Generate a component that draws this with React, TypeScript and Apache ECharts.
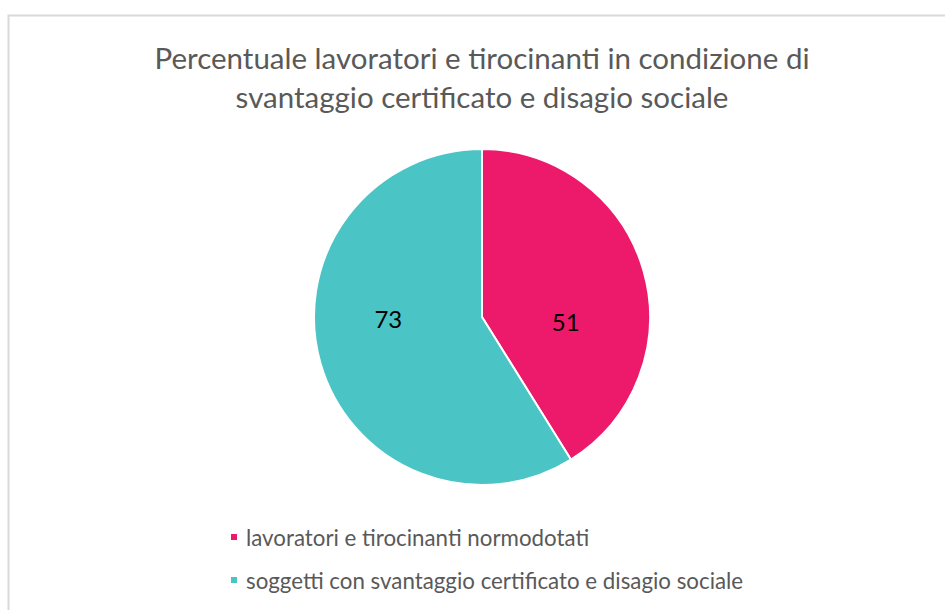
import React, { useEffect, useRef } from "react";
import * as echarts from "echarts";

const titleLines = [
  "Percentuale lavoratori e tirocinanti in condizione di",
  "svantaggio certificato e disagio sociale",
];
const categories = [
  "lavoratori e tirocinanti normodotati",
  "soggetti con svantaggio certificato e disagio sociale",
];
const values = [51, 73];
const colors = ["#ED1A6B", "#4BC4C6"];
const labelOffsets = [
  [0, 28],
  [-10, -22],
];

export default function App() {
  const ref = useRef<HTMLDivElement>(null);
  useEffect(() => {
    if (!ref.current) return;
    const chart = echarts.init(ref.current, null, { renderer: "svg" });
    const font = "Lato, 'Open Sans', sans-serif";
    chart.setOption({
      animation: false,
      backgroundColor: "#ffffff",
      title: {
        text: titleLines.join("\n"),
        left: 482,
        textAlign: "center",
        top: 38,
        padding: 0,
        textStyle: {
          fontFamily: font,
          fontSize: 29.5,
          fontWeight: "normal",
          color: "#595959",
          lineHeight: 39,
        },
      },
      graphic: [
        {
          type: "rect",
          shape: { x: 8.5, y: 15.5, width: 1000, height: 800 },
          style: { fill: "none", stroke: "#d9d9d9", lineWidth: 2 },
          silent: true,
        },
      ],
      legend: {
        orient: "vertical",
        left: 229,
        top: 526,
        padding: 0,
        icon: "rect",
        itemWidth: 8,
        itemHeight: 8,
        itemGap: 21,
        textStyle: {
          fontFamily: font,
          fontSize: 22.3,
          color: "#595959",
          lineHeight: 22,
          padding: [0, 0, 0, 3],
        },
        data: categories,
      },
      series: [
        {
          type: "pie",
          center: [482, 317],
          radius: 168,
          startAngle: 90,
          clockwise: true,
          itemStyle: { borderColor: "#ffffff", borderWidth: 2 },
          label: {
            position: "inside",
            fontFamily: font,
            fontSize: 24,
            color: "#000000",
          },
          labelLine: { show: false },
          emphasis: { disabled: true },
          data: categories.map((name, i) => ({
            name,
            value: values[i],
            itemStyle: { color: colors[i] },
            label: { formatter: "{c}", offset: labelOffsets[i] },
          })),
        },
      ],
    });
    return () => chart.dispose();
  }, []);
  return (
    <div
      ref={ref}
      style={{ position: "absolute", left: 0, top: 0, width: 945, height: 610 }}
    />
  );
}
